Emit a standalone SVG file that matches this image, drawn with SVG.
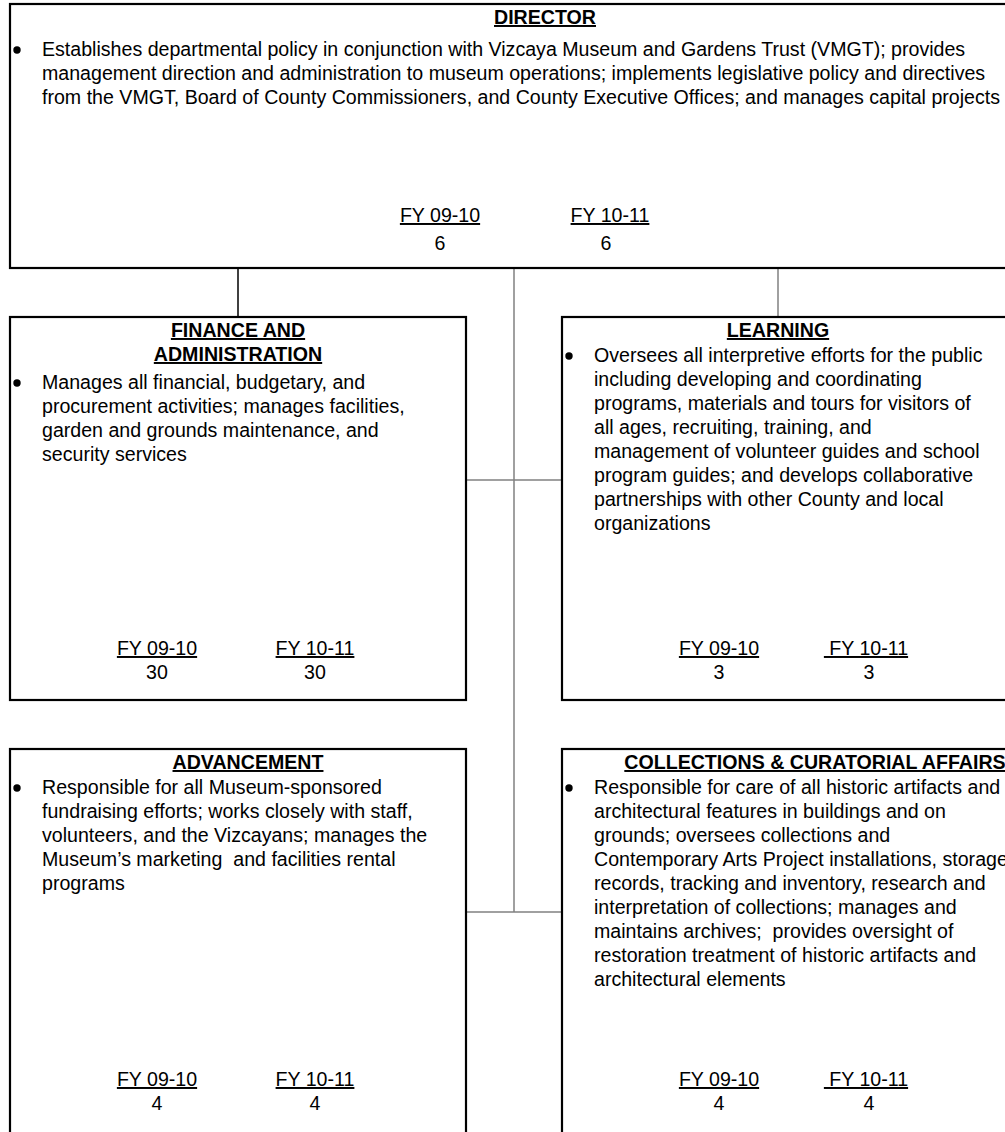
<svg xmlns="http://www.w3.org/2000/svg" width="1005" height="1132" viewBox="0 0 1005 1132">
<style>
.box{fill:#fff;stroke:#000;stroke-width:2.2}
.t{font-family:"Liberation Sans",Arial,sans-serif;font-size:19.6px;fill:#000}
.h{font-weight:bold;text-decoration:underline;text-anchor:middle}
.u{text-decoration:underline;text-anchor:middle}
.c{text-anchor:middle}
.blk{stroke:#000;stroke-width:1.5;fill:none}
.gry{stroke:#808080;stroke-width:1.5;fill:none}
</style>
<rect width="1005" height="1132" fill="#fff"/>
<g id="connectors">
<line class="blk" x1="238" y1="268" x2="238" y2="317"/>
<line class="gry" x1="514" y1="268" x2="514" y2="912"/>
<line class="gry" x1="778" y1="268" x2="778" y2="317"/>
<line class="gry" x1="466" y1="480" x2="562" y2="480"/>
<line class="gry" x1="466" y1="912" x2="562" y2="912"/>
</g>
<g id="director">
<rect class="box" x="10" y="4" width="1010" height="264"/>
<text class="t h" x="545" y="24">DIRECTOR</text>
<circle cx="17" cy="50" r="3.7"/>
<text class="t" x="42" y="56">Establishes departmental policy in conjunction with Vizcaya Museum and Gardens Trust (VMGT); provides</text>
<text class="t" x="42" y="80">management direction and administration to museum operations; implements legislative policy and directives</text>
<text class="t" x="42" y="104">from the VMGT, Board of County Commissioners, and County Executive Offices; and manages capital projects</text>
<text class="t u" x="440" y="222">FY 09-10</text>
<text class="t u" x="610" y="222">FY 10-11</text>
<text class="t c" x="440" y="250">6</text>
<text class="t c" x="606" y="250">6</text>
</g>
<g id="finance">
<rect class="box" x="10" y="317" width="456" height="383"/>
<text class="t h" x="238" y="337">FINANCE AND</text>
<text class="t h" x="238" y="361">ADMINISTRATION</text>
<circle cx="17" cy="383" r="3.7"/>
<text class="t" x="42" y="389">Manages all financial, budgetary, and</text>
<text class="t" x="42" y="413">procurement activities; manages facilities,</text>
<text class="t" x="42" y="437">garden and grounds maintenance, and</text>
<text class="t" x="42" y="461">security services</text>
<text class="t u" x="157" y="655">FY 09-10</text>
<text class="t u" x="315" y="655">FY 10-11</text>
<text class="t c" x="157" y="679">30</text>
<text class="t c" x="315" y="679">30</text>
</g>
<g id="learning">
<rect class="box" x="562" y="317" width="460" height="383"/>
<text class="t h" x="778" y="337">LEARNING</text>
<circle cx="569" cy="356" r="3.7"/>
<text class="t" x="594" y="362">Oversees all interpretive efforts for the public</text>
<text class="t" x="594" y="386">including developing and coordinating</text>
<text class="t" x="594" y="410">programs, materials and tours for visitors of</text>
<text class="t" x="594" y="434">all ages, recruiting, training, and</text>
<text class="t" x="594" y="458">management of volunteer guides and school</text>
<text class="t" x="594" y="482">program guides; and develops collaborative</text>
<text class="t" x="594" y="506">partnerships with other County and local</text>
<text class="t" x="594" y="530">organizations</text>
<text class="t u" x="719" y="655">FY 09-10</text>
<text class="t u" x="866" y="655">&#160;FY 10-11</text>
<text class="t c" x="719" y="679">3</text>
<text class="t c" x="869" y="679">3</text>
</g>
<g id="advancement">
<rect class="box" x="10" y="749" width="456" height="400"/>
<text class="t h" x="248" y="769">ADVANCEMENT</text>
<circle cx="17" cy="788" r="3.7"/>
<text class="t" x="42" y="794">Responsible for all Museum-sponsored</text>
<text class="t" x="42" y="818">fundraising efforts; works closely with staff,</text>
<text class="t" x="42" y="842">volunteers, and the Vizcayans; manages the</text>
<text class="t" x="42" y="866" xml:space="preserve">Museum’s marketing  and facilities rental</text>
<text class="t" x="42" y="890">programs</text>
<text class="t u" x="157" y="1086">FY 09-10</text>
<text class="t u" x="315" y="1086">FY 10-11</text>
<text class="t c" x="157" y="1110">4</text>
<text class="t c" x="315" y="1110">4</text>
</g>
<g id="collections">
<rect class="box" x="562" y="749" width="460" height="400"/>
<text class="t h" x="815" y="769">COLLECTIONS &amp; CURATORIAL AFFAIRS</text>
<circle cx="569" cy="788" r="3.7"/>
<text class="t" x="594" y="794">Responsible for care of all historic artifacts and</text>
<text class="t" x="594" y="818">architectural features in buildings and on</text>
<text class="t" x="594" y="842">grounds; oversees collections and</text>
<text class="t" x="594" y="866">Contemporary Arts Project installations, storage</text>
<text class="t" x="594" y="890">records, tracking and inventory, research and</text>
<text class="t" x="594" y="914">interpretation of collections; manages and</text>
<text class="t" x="594" y="938" xml:space="preserve">maintains archives;  provides oversight of</text>
<text class="t" x="594" y="962">restoration treatment of historic artifacts and</text>
<text class="t" x="594" y="986">architectural elements</text>
<text class="t u" x="719" y="1086">FY 09-10</text>
<text class="t u" x="866" y="1086">&#160;FY 10-11</text>
<text class="t c" x="719" y="1110">4</text>
<text class="t c" x="869" y="1110">4</text>
</g>
</svg>
